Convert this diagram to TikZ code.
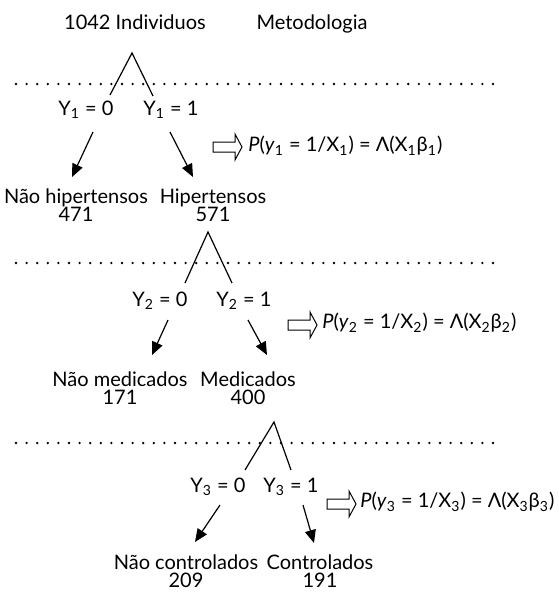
\documentclass[tikz,border=0pt]{standalone}
\usepackage{fontspec}
\setmainfont{Lato}
\usetikzlibrary{arrows.meta}

\begin{document}
\begin{tikzpicture}[
  x=0.5pt, y=-0.5pt,
  lbl/.style={inner sep=1pt, align=center, font=\fontsize{10}{9}\selectfont},
  arr/.style={-{Triangle[length=6.5pt,width=5.5pt]}, line width=0.6pt},
  leg/.style={line width=0.6pt},
  sep/.style={line width=1.3pt, dash pattern=on 0pt off 5.3pt, line cap=round},
  impl/.pic={\draw[line width=0.5pt] (0,-5) -- (22,-5) -- (22,-13) -- (29,0) -- (22,13) -- (22,5) -- (0,5) -- cycle;}
]
\useasboundingbox (0,0) rectangle (558,595);

% primeira etapa
\node[lbl] (ind) at (135,22) {1042 Individuos};
\node[lbl] (met) at (312,24) {Metodologia};
\coordinate (sepL1) at (16,84);
\coordinate (sepR1) at (503,84);
\draw[sep] (sepL1) -- (sepR1);
\coordinate (top1) at (132,53);
\coordinate (legA1) at (110,95);
\coordinate (legB1) at (153,96);
\draw[leg] (legA1) -- (top1) -- (legB1);
\node[lbl] (y10) at (86,110) {Y\textsubscript{1} = 0};
\node[lbl] (y11) at (171,110) {Y\textsubscript{1} = 1};
\node[lbl] (nh) at (76,205) {Não hipertensos\\471};
\node[lbl] (h) at (213,205) {Hipertensos\\571};
\coordinate (a10) at (93,132);
\coordinate (b10) at (72,177);
\coordinate (a11) at (170,132);
\coordinate (b11) at (193,177);
\draw[arr] (a10) -- (b10);
\draw[arr] (a11) -- (b11);
\pic at (213,147) {impl};
\node[lbl, anchor=west] (f1) at (246,146) {\textit{P}(\textit{y}\textsubscript{1} = 1/X\textsubscript{1}) = Λ(X\textsubscript{1}β\textsubscript{1})};

% segunda etapa
\coordinate (sepL2) at (16,263);
\coordinate (sepR2) at (503,263);
\draw[sep] (sepL2) -- (sepR2);
\coordinate (top2) at (208,232);
\coordinate (legA2) at (185,283);
\coordinate (legB2) at (232,283);
\draw[leg] (legA2) -- (top2) -- (legB2);
\node[lbl] (y20) at (160,301) {Y\textsubscript{2} = 0};
\node[lbl] (y21) at (244,301) {Y\textsubscript{2} = 1};
\node[lbl] (nm) at (120,388) {Não medicados\\171};
\node[lbl] (m) at (248,388) {Medicados\\400};
\coordinate (a20) at (168,320);
\coordinate (b20) at (152,355);
\coordinate (a21) at (248,320);
\coordinate (b21) at (267,355);
\draw[arr] (a20) -- (b20);
\draw[arr] (a21) -- (b21);
\pic at (288,325) {impl};
\node[lbl, anchor=west] (f2) at (320,323) {\textit{P}(\textit{y}\textsubscript{2} = 1/X\textsubscript{2}) = Λ(X\textsubscript{2}β\textsubscript{2})};

% terceira etapa
\coordinate (sepL3) at (16,443);
\coordinate (sepR3) at (503,443);
\draw[sep] (sepL3) -- (sepR3);
\coordinate (top3) at (274,422);
\coordinate (legA3) at (245,470);
\coordinate (legB3) at (291,470);
\draw[leg] (legA3) -- (top3) -- (legB3);
\node[lbl] (y30) at (218,487) {Y\textsubscript{3} = 0};
\node[lbl] (y31) at (291,487) {Y\textsubscript{3} = 1};
\node[lbl] (nc) at (186,571) {Não controlados\\209};
\node[lbl] (c) at (320,571) {Controlados\\191};
\coordinate (a30) at (220,505);
\coordinate (b30) at (195,542);
\coordinate (a31) at (303,505);
\coordinate (b31) at (314,543);
\draw[arr] (a30) -- (b30);
\draw[arr] (a31) -- (b31);
\pic at (327,504) {impl};
\node[lbl, anchor=west] (f3) at (358,502) {\textit{P}(\textit{y}\textsubscript{3} = 1/X\textsubscript{3}) = Λ(X\textsubscript{3}β\textsubscript{3})};
\end{tikzpicture}
\end{document}
